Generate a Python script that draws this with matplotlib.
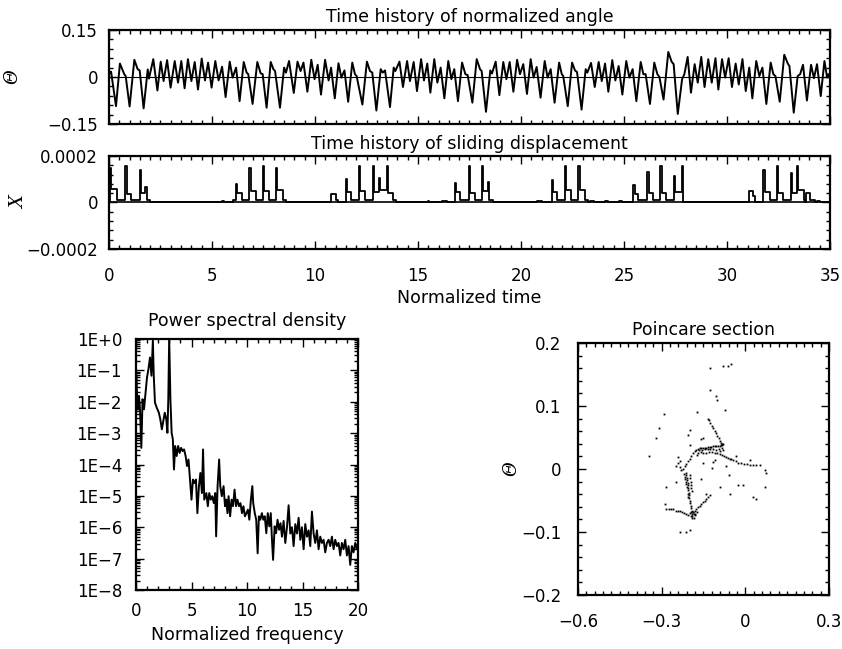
import matplotlib
matplotlib.use("Agg")
import matplotlib.pyplot as plt
from matplotlib.ticker import MultipleLocator, LogLocator, NullFormatter

plt.rcParams['font.family'] = ['DejaVu Sans']
plt.rcParams['axes.unicode_minus'] = True

# --- time history of normalized angle (extrema) ---
angle_t = [0.0, 0.05, 0.10, 0.34, 0.53, 0.74, 0.81, 1.00, 1.23, 1.39, 1.49, 1.68, 1.88, 1.94,
           2.15, 2.35, 2.51, 2.65, 2.82, 2.99, 3.19, 3.35, 3.51, 3.67, 3.83, 4.00, 4.16, 4.32,
           4.50, 4.66, 4.81, 4.98, 5.16, 5.32, 5.49, 5.66, 5.86, 6.00, 6.17, 6.34, 6.54, 6.68,
           6.76, 6.97, 7.20, 7.36, 7.46, 7.65, 7.85, 7.98, 8.06, 8.30, 8.50, 8.59, 8.74, 8.97,
           9.15, 9.30, 9.44, 9.63, 9.82, 9.98, 10.13, 10.29, 10.49, 10.66, 10.78, 10.96, 11.14,
           11.28, 11.43, 11.61, 11.81, 11.94, 12.02, 12.30, 12.52, 12.67, 12.78, 12.98, 13.19,
           13.29, 13.40, 13.64, 13.82, 13.90, 14.10, 14.27, 14.47, 14.61, 14.79, 14.95, 15.15,
           15.29, 15.45, 15.60, 15.79, 15.94, 16.10, 16.28, 16.47, 16.62, 16.76, 16.94, 17.14,
           17.30, 17.41, 17.64, 17.85, 18.01, 18.09, 18.30, 18.51, 18.59, 18.77, 18.95, 19.14,
           19.29, 19.45, 19.63, 19.81, 19.95, 20.11, 20.29, 20.47, 20.61, 20.76, 20.95, 21.15,
           21.29, 21.44, 21.63, 21.85, 21.98, 22.05, 22.27, 22.48, 22.62, 22.72, 22.94, 23.14,
           23.22, 23.40, 23.58, 23.77, 23.92, 24.08, 24.24, 24.43, 24.58, 24.74, 24.92, 25.11,
           25.26, 25.42, 25.60, 25.81, 25.94, 26.05, 26.26, 26.47, 26.62, 26.72, 26.92, 27.15,
           27.31, 27.41, 27.61, 27.82, 27.93, 28.09, 28.25, 28.43, 28.58, 28.75, 28.91, 29.09,
           29.26, 29.44, 29.58, 29.76, 29.91, 30.08, 30.24, 30.42, 30.57, 30.75, 30.91, 31.08,
           31.23, 31.42, 31.57, 31.72, 31.91, 32.12, 32.25, 32.35, 32.56, 32.78, 32.95, 33.03,
           33.24, 33.43, 33.55, 33.69, 33.88, 34.08, 34.22, 34.37, 34.55, 34.73, 34.86, 34.92, 35.0]
angle_v = [0.010, 0.014, 0.017, -0.093, 0.043, 0.009, 0.003, -0.094, 0.055, 0.025, 0.021, -0.100,
           0.024, -0.005, 0.057, -0.043, 0.049, -0.013, 0.054, -0.034, 0.051, -0.018, 0.051,
           -0.036, 0.057, -0.013, 0.048, -0.040, 0.059, -0.011, 0.046, -0.034, 0.051, -0.011,
           0.033, -0.064, 0.049, -0.002, 0.030, -0.077, 0.048, 0.014, 0.009, -0.086, 0.048, 0.012,
           0.009, -0.098, 0.048, 0.025, 0.019, -0.098, 0.030, 0.014, 0.051, -0.051, 0.049, 0.019,
           0.046, -0.047, 0.055, -0.007, 0.039, -0.056, 0.055, -0.011, 0.030, -0.068, 0.044,
           -0.002, 0.021, -0.079, 0.046, 0.009, 0.003, -0.088, 0.049, 0.019, 0.014, -0.107, 0.025,
           0.014, 0.021, -0.096, 0.030, 0.019, 0.049, -0.032, 0.051, -0.013, 0.048, -0.045, 0.057,
           -0.011, 0.043, -0.050, 0.057, -0.018, 0.030, -0.068, 0.051, -0.007, 0.025, -0.077,
           0.046, 0.009, 0.006, -0.082, 0.057, 0.025, 0.019, -0.111, 0.021, 0.011, 0.049, -0.058,
           0.048, -0.007, 0.048, -0.047, 0.055, 0.009, 0.041, -0.054, 0.057, -0.002, 0.032,
           -0.066, 0.051, -0.002, 0.025, -0.082, 0.046, 0.009, 0.003, -0.093, 0.046, 0.021, 0.016,
           -0.104, 0.025, 0.014, 0.045, -0.032, 0.048, -0.013, 0.043, -0.047, 0.054, -0.011,
           0.035, -0.056, 0.051, -0.002, 0.025, -0.077, 0.048, 0.009, 0.009, -0.086, 0.046, 0.009,
           0.000, -0.072, 0.080, 0.049, 0.041, -0.118, -0.007, 0.009, 0.064, -0.050, 0.041,
           -0.018, 0.064, -0.032, 0.057, -0.018, 0.060, -0.040, 0.057, -0.002, 0.060, -0.032,
           0.043, -0.024, 0.057, -0.045, 0.030, -0.068, 0.051, 0.003, 0.030, -0.086, 0.046, 0.009,
           0.003, -0.079, 0.071, 0.043, 0.035, -0.114, 0.003, 0.009, 0.039, -0.075, 0.039, -0.004,
           0.041, -0.061, 0.051, -0.002, 0.009, -0.005]

# --- time history of sliding displacement (step changes) ---
disp_t = [0.00, 0.05, 0.11, 0.38, 0.80, 0.86, 1.08, 1.50, 1.56, 1.76, 1.83, 2.00,
          5.50, 5.60,
          6.04, 6.17, 6.23, 6.44, 6.81, 6.87, 7.12, 7.46, 7.52, 7.78, 8.11, 8.17, 8.43, 8.59,
          10.80, 11.04, 11.12,
          11.49, 11.54, 11.75, 12.13, 12.19, 12.45, 12.80, 12.86, 13.10, 13.15, 13.48, 13.53,
          13.78, 13.95,
          15.47, 15.55, 16.15, 16.40,
          16.80, 16.86, 17.06, 17.46, 17.52, 17.75, 18.09, 18.15, 18.40, 18.45, 18.62,
          20.80, 21.00,
          21.49, 21.55, 21.75, 22.14, 22.20, 22.45, 22.78, 22.84, 23.12, 23.25, 23.35, 23.55,
          24.10, 24.20, 24.75, 24.90,
          25.45, 25.51, 25.70, 26.13, 26.19, 26.40, 26.75, 26.83, 27.05, 27.42, 27.47, 27.80,
          27.85,
          31.08, 31.25, 31.37,
          31.77, 31.83, 32.08, 32.41, 32.47, 32.70, 33.10, 33.15, 33.40, 33.45, 33.72, 33.78,
          33.84, 34.05, 34.28, 34.36, 34.52, 35.00]
disp_v = [0.0, 1.50e-4, 0.60e-4, 0.10e-4, 1.55e-4, 0.35e-4, 0.10e-4, 1.40e-4, 0.40e-4, 0.65e-4,
          0.10e-4, 0.0,
          0.07e-4, 0.0,
          0.10e-4, 0.80e-4, 0.40e-4, 0.10e-4, 1.50e-4, 0.50e-4, 0.10e-4, 1.55e-4, 0.50e-4,
          0.10e-4, 1.50e-4, 0.55e-4, 0.10e-4, 0.0,
          0.35e-4, 0.10e-4, 0.0,
          1.00e-4, 0.45e-4, 0.10e-4, 1.55e-4, 0.50e-4, 0.10e-4, 1.55e-4, 0.45e-4, 1.05e-4,
          0.55e-4, 1.55e-4, 0.40e-4, 0.10e-4, 0.0,
          0.06e-4, 0.0, 0.08e-4, 0.0,
          0.85e-4, 0.45e-4, 0.10e-4, 1.55e-4, 0.40e-4, 0.10e-4, 1.55e-4, 0.50e-4, 0.90e-4,
          0.10e-4, 0.0,
          0.08e-4, 0.0,
          0.95e-4, 0.45e-4, 0.10e-4, 1.55e-4, 0.55e-4, 0.10e-4, 1.55e-4, 0.55e-4, 0.10e-4, 0.0,
          0.06e-4, 0.0, 0.06e-4, 0.0, 0.06e-4, 0.0,
          0.75e-4, 0.38e-4, 0.10e-4, 1.30e-4, 0.40e-4, 0.10e-4, 1.55e-4, 0.42e-4, 0.10e-4,
          1.15e-4, 0.47e-4, 1.55e-4, 0.0,
          0.50e-4, 0.30e-4, 0.0,
          1.40e-4, 0.47e-4, 0.10e-4, 1.55e-4, 0.40e-4, 0.10e-4, 1.25e-4, 0.40e-4, 1.55e-4,
          0.55e-4, 0.10e-4, 0.0, 0.40e-4, 0.10e-4, 0.0, 0.08e-4, 0.0, 0.0]

# --- power spectral density (log10 values) ---
psd_f = [0.05, 0.13, 0.27, 0.37, 0.48, 0.59, 0.72, 0.86, 0.99, 1.12, 1.26, 1.39, 1.52, 1.60,
         1.71, 1.87, 2.06, 2.19, 2.33, 2.46, 2.59, 2.73, 2.83, 2.91, 2.99, 3.10, 3.21, 3.32,
         3.42, 3.53, 3.66, 3.80, 3.93, 4.06, 4.20, 4.33, 4.47, 4.60, 4.73, 4.87, 5.00, 5.13,
         5.27, 5.40, 5.53, 5.67, 5.80, 5.94, 6.04, 6.15, 6.34, 6.47, 6.60, 6.74, 6.87, 7.01,
         7.14, 7.22, 7.35, 7.49, 7.59, 7.73, 7.89, 8.02, 8.13, 8.24, 8.34, 8.48, 8.61, 8.74,
         8.88, 9.01, 9.14, 9.28, 9.41, 9.55, 9.68, 9.81, 9.95, 10.08, 10.21, 10.35, 10.48,
         10.56, 10.70, 10.83, 10.96, 11.07, 11.20, 11.34, 11.47, 11.60, 11.74, 11.87, 12.01,
         12.14, 12.25, 12.35, 12.49, 12.62, 12.75, 12.89, 13.02, 13.15, 13.30, 13.45, 13.60,
         13.75, 13.90, 14.05, 14.20, 14.35, 14.50, 14.65, 14.80, 14.95, 15.10, 15.25, 15.40,
         15.55, 15.70, 15.85, 16.00, 16.15, 16.30, 16.45, 16.60, 16.75, 16.90, 17.05, 17.20,
         17.35, 17.50, 17.65, 17.80, 17.95, 18.10, 18.25, 18.40, 18.55, 18.70, 18.85, 19.00,
         19.15, 19.30, 19.45, 19.60, 19.75, 19.90, 20.00]
psd_log = [-1.17, -2.24, -1.81, -2.35, -3.47, -1.92, -2.24, -1.71, -1.23, -0.96, -0.59, -1.17,
           -0.05, -1.17, -2.03, -2.19, -2.35, -2.56, -2.88, -2.61, -2.35, -2.56, -2.99, -1.92,
           0.05, -1.92, -2.99, -3.20, -4.16, -3.41, -3.73, -3.41, -3.63, -3.47, -3.57, -3.52,
           -3.73, -4.05, -3.84, -4.48, -5.12, -4.48, -4.59, -4.48, -5.55, -4.69, -4.27, -4.91,
           -3.52, -5.12, -4.91, -5.33, -4.91, -5.12, -5.01, -5.23, -4.91, -6.29, -4.69, -3.84,
           -4.69, -5.01, -4.69, -5.33, -5.12, -5.55, -5.01, -5.65, -5.12, -5.33, -4.80, -5.33,
           -5.12, -5.33, -5.23, -5.55, -5.33, -5.65, -5.55, -5.44, -5.76, -5.12, -4.69, -5.23,
           -5.55, -5.76, -6.83, -5.65, -5.76, -5.55, -5.76, -5.65, -6.19, -5.55, -5.97, -5.55,
           -6.40, -7.04, -5.97, -6.19, -5.76, -6.08, -5.87, -6.30, -5.80, -6.50, -6.00, -5.30,
           -6.20, -6.00, -6.60, -5.90, -6.20, -5.70, -6.40, -6.00, -6.70, -5.90, -6.30, -6.10,
           -6.60, -5.50, -6.20, -6.50, -6.10, -6.70, -6.30, -6.50, -6.40, -6.80, -6.50, -6.40,
           -6.60, -6.30, -6.70, -6.40, -6.60, -6.50, -6.90, -6.50, -6.70, -6.40, -6.90, -6.60,
           -7.20, -6.60, -6.80, -6.50, -6.70, -6.70]
psd_val = [10 ** v for v in psd_log]

# --- Poincare section points ---
pc_x = [-0.128, -0.080, -0.062, -0.050, -0.128, -0.104, -0.101, -0.074, -0.293, -0.311, -0.322,
        -0.347, -0.172, -0.200, -0.205, -0.150, -0.160,
        -0.134, -0.130, -0.125, -0.120, -0.115, -0.110, -0.105, -0.100, -0.096, -0.092, -0.088,
        -0.085, -0.082,
        -0.195, -0.188, -0.182, -0.176, -0.170, -0.164, -0.158, -0.152, -0.146, -0.140, -0.134,
        -0.128, -0.122, -0.116, -0.110, -0.104, -0.098, -0.092, -0.086, -0.080,
        -0.170, -0.160, -0.150, -0.140, -0.130, -0.120, -0.110, -0.100, -0.092, -0.085, -0.078,
        -0.070, -0.062, -0.055, -0.050,
        -0.175, -0.165, -0.155, -0.145, -0.135, -0.125, -0.115, -0.105, -0.095, -0.085, -0.080,
        -0.090,
        -0.044, -0.035, -0.026, -0.015, -0.005, 0.005, 0.015, 0.027, 0.040, 0.051, 0.069, 0.073,
        -0.200, -0.206, -0.212, -0.218, -0.224, -0.230, -0.236, -0.247, -0.241, -0.235,
        -0.214, -0.212, -0.210, -0.209, -0.207, -0.206, -0.205, -0.204, -0.203, -0.202, -0.201,
        -0.200, -0.198, -0.196, -0.194, -0.191, -0.188, -0.185, -0.182,
        -0.220, -0.218, -0.216, -0.214, -0.212, -0.210, -0.200, -0.198, -0.196, -0.195, -0.194,
        -0.193, -0.205, -0.206,
        -0.283, -0.275, -0.267, -0.259, -0.250, -0.242, -0.236, -0.228, -0.220, -0.212, -0.204,
        -0.196, -0.190, -0.186, -0.180, -0.176, -0.170, -0.164, -0.158, -0.152, -0.146, -0.140,
        -0.134, -0.128,
        -0.200, -0.195, -0.190, -0.185, -0.192, -0.180, -0.175,
        -0.283, -0.289, -0.236, -0.212, -0.200, -0.026, -0.008, 0.027, 0.039, 0.069, -0.056,
        -0.092, -0.140, -0.247, -0.116, 0.015, -0.032, -0.241, -0.200, -0.160, -0.120, -0.070,
        -0.060, -0.150, -0.110]
pc_y = [0.160, 0.163, 0.164, 0.166, 0.126, 0.116, 0.110, 0.094, 0.088, 0.065, 0.049,
        0.021, 0.091, 0.062, 0.054, 0.050, 0.048,
        0.080, 0.077, 0.073, 0.069, 0.065, 0.061, 0.057, 0.053, 0.049, 0.045, 0.042,
        0.040, 0.038,
        0.020, 0.025, 0.028, 0.030, 0.031, 0.033, 0.033, 0.034, 0.034, 0.034, 0.035,
        0.035, 0.035, 0.036, 0.036, 0.037, 0.037, 0.037, 0.038, 0.040,
        0.026, 0.027, 0.026, 0.026, 0.027, 0.027, 0.026, 0.025, 0.024, 0.022, 0.020,
        0.019, 0.018, 0.016, 0.016,
        0.022, 0.030, 0.030, 0.031, 0.032, 0.031, 0.031, 0.030, 0.031, 0.033, 0.030,
        0.028,
        0.014, 0.012, 0.010, 0.009, 0.008, 0.008, 0.007, 0.006, 0.006, 0.006, -0.002, -0.007,
        0.016, 0.012, 0.008, 0.004, 0.000, -0.002, 0.003, 0.004, 0.010, 0.012,
        -0.006, -0.010, -0.014, -0.018, -0.022, -0.026, -0.030, -0.034, -0.038, -0.042, -0.046,
        -0.050, -0.054, -0.058, -0.062, -0.066, -0.069, -0.071, -0.073,
        -0.008, -0.012, -0.016, -0.020, -0.024, -0.028, -0.010, -0.015, -0.020, -0.025, -0.030,
        -0.035, -0.045, -0.040,
        -0.063, -0.063, -0.064, -0.064, -0.066, -0.067, -0.067, -0.069, -0.070, -0.071, -0.073,
        -0.074, -0.071, -0.068, -0.066, -0.064, -0.061, -0.059, -0.056, -0.053, -0.050, -0.047,
        -0.045, -0.042,
        -0.070, -0.068, -0.075, -0.077, -0.078, -0.072, -0.069,
        -0.028, -0.055, -0.100, -0.100, -0.097, -0.026, -0.026, -0.044, -0.047, -0.028, -0.039,
        -0.028, -0.039, -0.020, 0.011, 0.015, 0.020, 0.019, 0.038, -0.016, 0.002, 0.005,
        -0.010, 0.010, 0.015]

W, H = 842, 649
fig = plt.figure(figsize=(W / 100, H / 100), dpi=100)
FS = 12.5
MINUS = '\u2212'


def frame(ax, pad=8):
    for s in ax.spines.values():
        s.set_linewidth(1.6)
    ax.tick_params(which='both', direction='in', top=True, right=True, labelsize=12, width=1.0)
    ax.tick_params(which='major', length=6, pad=pad)
    ax.tick_params(which='minor', length=3)


def axpos(l, t, r, b):
    return fig.add_axes([l / W, 1 - b / H, (r - l) / W, (b - t) / H])


# top panel: angle
ax1 = axpos(109, 30, 830, 124)
ax1.plot(angle_t, angle_v, color='k', lw=1.4)
ax1.axhline(0, color='k', lw=0.8)
ax1.set_xlim(0, 35)
ax1.set_ylim(-0.15, 0.15)
ax1.xaxis.set_major_locator(MultipleLocator(5))
ax1.xaxis.set_minor_locator(MultipleLocator(0.5))
ax1.set_xticklabels([])
ax1.set_yticks([-0.15, 0, 0.15])
ax1.set_yticklabels([MINUS + '0.15', '0', '0.15'])
ax1.yaxis.set_minor_locator(MultipleLocator(0.03))
frame(ax1)
ax1.set_title('Time history of normalized angle', fontsize=FS, pad=6)
ax1.set_ylabel('Θ', fontsize=13, family='DejaVu Serif', style='italic')
ax1.yaxis.set_label_coords(-0.121, 0.5)

# second panel: sliding displacement
ax2 = axpos(109, 156, 830, 249)
ax2.plot(disp_t, disp_v, color='k', lw=1.3, drawstyle='steps-post')
ax2.axhline(0, color='k', lw=1.2)
ax2.set_xlim(0, 35)
ax2.set_ylim(-0.0002, 0.0002)
ax2.set_xticks(range(0, 36, 5))
ax2.set_xticklabels([str(v) for v in range(0, 36, 5)])
ax2.xaxis.set_minor_locator(MultipleLocator(0.5))
ax2.set_yticks([-0.0002, 0, 0.0002])
ax2.set_yticklabels([MINUS + '0.0002', '0', '0.0002'])
ax2.yaxis.set_minor_locator(MultipleLocator(0.00004))
frame(ax2)
ax2.tick_params(axis='x', which='major', pad=13)
ax2.set_title('Time history of sliding displacement', fontsize=FS, pad=5)
ax2.set_xlabel('Normalized time', fontsize=FS, labelpad=3)
ax2.set_ylabel('X', fontsize=13, family='DejaVu Serif', style='italic')
ax2.yaxis.set_label_coords(-0.112, 0.5)

# bottom left: PSD
ax3 = axpos(136, 339, 358, 590)
ax3.plot(psd_f, psd_val, color='k', lw=1.4)
ax3.set_yscale('log')
ax3.set_xlim(0, 20)
ax3.set_ylim(1e-8, 1)
ax3.set_xticks([0, 5, 10, 15, 20])
ax3.xaxis.set_minor_locator(MultipleLocator(1))
decades = list(range(-8, 1))
ax3.set_yticks([10.0 ** d for d in decades])
ax3.set_yticklabels(['1E+0' if d == 0 else '1E' + MINUS + str(-d) for d in decades])
ax3.yaxis.set_minor_locator(LogLocator(base=10, subs=range(2, 10), numticks=20))
ax3.yaxis.set_minor_formatter(NullFormatter())
frame(ax3, pad=10)
ax3.tick_params(axis='x', which='major', pad=9)
ax3.set_title('Power spectral density', fontsize=FS, pad=9)
ax3.set_xlabel('Normalized frequency', fontsize=FS, labelpad=4)

# bottom right: Poincare section
ax4 = axpos(578, 343, 829, 595)
ax4.plot(pc_x, pc_y, 's', color='k', ms=1.3, mew=0)
ax4.set_xlim(-0.6, 0.3)
ax4.set_ylim(-0.2, 0.2)
ax4.set_xticks([-0.6, -0.3, 0, 0.3])
ax4.set_xticklabels([MINUS + '0.6', MINUS + '0.3', '0', '0.3'])
ax4.xaxis.set_minor_locator(MultipleLocator(0.03))
ax4.set_yticks([-0.2, -0.1, 0, 0.1, 0.2])
ax4.set_yticklabels([MINUS + '0.2', MINUS + '0.1', '0', '0.1', '0.2'])
ax4.yaxis.set_minor_locator(MultipleLocator(0.02))
frame(ax4, pad=12)
ax4.tick_params(axis='x', which='major', pad=13)
ax4.set_title('Poincare section', fontsize=FS, pad=6)
ax4.set_ylabel('Θ', fontsize=13, family='DejaVu Serif', style='italic')
ax4.yaxis.set_label_coords(-0.231, 0.5)

fig.savefig('out.png', dpi=100)
